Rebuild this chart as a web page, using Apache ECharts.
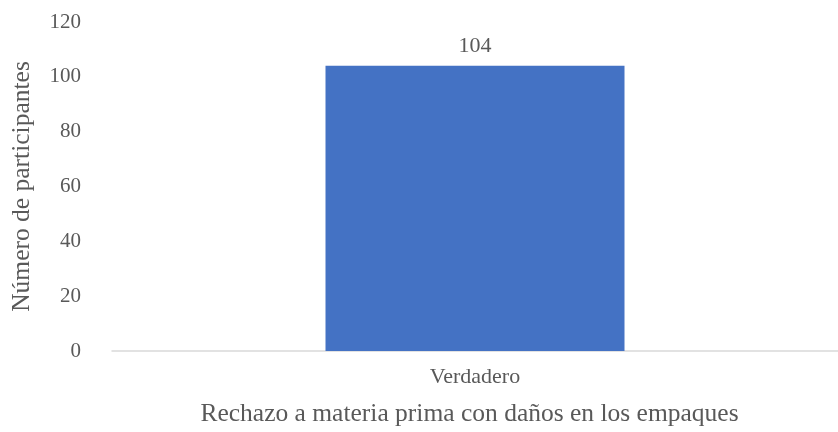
<!DOCTYPE html>
<html>
<head>
<meta charset="utf-8">
<script src="https://cdn.jsdelivr.net/npm/echarts@6/dist/echarts.min.js"></script>
<style>html,body{margin:0;padding:0;background:#fff}#chart{width:838px;height:432px}</style>
</head>
<body>
<div id="chart"></div>
<script>
const categories = ['Verdadero'];
const counts = [104];
const yTicks = [0, 20, 40, 60, 80, 100, 120];
const xTitle = 'Rechazo a materia prima con daños en los empaques';
const yTitle = 'Número de participantes';

const font = '"Liberation Serif", "Times New Roman", serif';
const textColor = '#595959';

const chart = echarts.init(document.getElementById('chart'));
chart.setOption({
  animation: false,
  grid: { left: 112, right: 0, top: 22, bottom: 81 },
  xAxis: {
    type: 'category',
    data: categories,
    axisLine: { lineStyle: { color: '#d9d9d9', width: 1.5 } },
    axisTick: { show: false },
    axisLabel: { color: textColor, fontFamily: font, fontSize: 22, margin: 15 },
    name: xTitle,
    nameLocation: 'middle',
    nameGap: 50,
    nameTextStyle: { color: textColor, fontFamily: font, fontSize: 25.5, padding: [0, 11, 0, 0] }
  },
  yAxis: {
    type: 'value',
    min: yTicks[0],
    max: yTicks[yTicks.length - 1],
    interval: yTicks[1] - yTicks[0],
    axisLine: { show: false },
    axisTick: { show: false },
    splitLine: { show: false },
    axisLabel: { color: textColor, fontFamily: font, fontSize: 21, margin: 31 },
    name: yTitle,
    nameLocation: 'middle',
    nameGap: 77,
    nameTextStyle: { color: textColor, fontFamily: font, fontSize: 25.5 }
  },
  series: [{
    type: 'bar',
    data: counts,
    barWidth: 299,
    itemStyle: { color: '#4472c4' },
    label: {
      show: true,
      position: 'top',
      distance: 9,
      color: textColor,
      fontFamily: font,
      fontSize: 22
    }
  }]
});
</script>
</body>
</html>
